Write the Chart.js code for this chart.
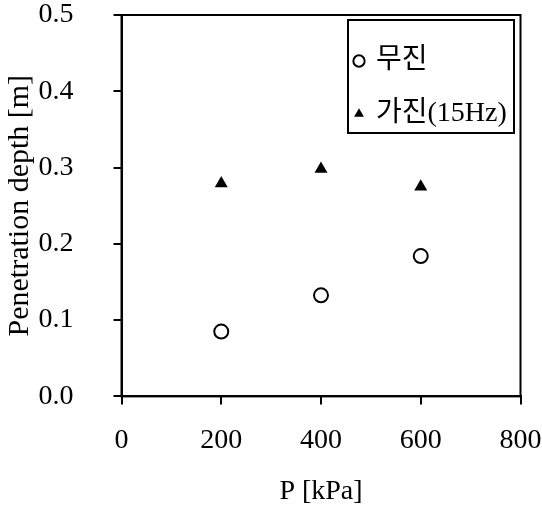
<!DOCTYPE html>
<html>
<head>
<meta charset="utf-8">
<script src="https://cdn.jsdelivr.net/npm/chart.js@4.4.0/dist/chart.umd.min.js"></script>
<style>
  html, body { margin: 0; padding: 0; background: #fff; }
  #wrap { width: 542px; height: 506px; }
</style>
</head>
<body>
<div id="wrap"><canvas id="grafica"></canvas></div>
<script>
// Datos
const presiones = [200, 400, 600];
const profMujin = [0.085, 0.1325, 0.184];
const profGajin = [0.279, 0.298, 0.275];
const etiquetas = ["무진", "가진(15Hz)"];
const ticksY = [0.0, 0.1, 0.2, 0.3, 0.4, 0.5];
const ticksX = [0, 200, 400, 600, 800];

const serif = "'Liberation Serif', 'Times New Roman', serif";
const padX = 19;
const padY = 40;

// Mover la leyenda dentro del area del grafico y dibujar su recuadro
const leyendaCaja = {
    id: "leyendaCaja",
    afterLayout(chart) {
        const area = chart.chartArea;
        const lg = chart.legend;
        const boxL = area.right - 172.5;
        const boxT = area.top + 5;
        lg.left = boxL - 17;
        lg.top = boxT + 2;
        lg.width = 200;
        lg.right = lg.left + lg.width;
        lg.height = area.bottom - lg.top;
        lg.bottom = area.bottom;
        lg.adjustHitBoxes();
    },
    afterDraw(chart) {
        const area = chart.chartArea;
        const ctx = chart.ctx;
        ctx.save();
        ctx.strokeStyle = "#000";
        ctx.lineWidth = 2;
        // marco del area
        ctx.strokeRect(area.left, area.top, area.right - area.left, area.bottom - area.top);
        // marco de la leyenda
        ctx.strokeRect(area.right - 172.5, area.top + 5, 166, 113);
        ctx.restore();
    }
};

const ctx = document.getElementById("grafica").getContext("2d");
new Chart(ctx, {
    type: "scatter",
    data: {
        datasets: [
            {
                label: etiquetas[0],
                data: presiones.map((p, i) => ({ x: p, y: profMujin[i] })),
                pointStyle: "circle",
                pointRadius: 7,
                pointBorderWidth: 2,
                borderColor: "#000",
                backgroundColor: "#fff",
                pointBackgroundColor: "#fff",
                pointBorderColor: "#000"
            },
            {
                label: etiquetas[1],
                data: presiones.map((p, i) => ({ x: p, y: profGajin[i] })),
                pointStyle: "triangle",
                pointRadius: 7.5,
                pointBorderWidth: 0,
                borderWidth: 0,
                borderColor: "#000",
                backgroundColor: "#000",
                pointBackgroundColor: "#000"
            }
        ]
    },
    options: {
        responsive: true,
        maintainAspectRatio: false,
        animation: false,
        layout: { padding: { top: 15, right: 21.5, left: 2.5, bottom: 0 } },
        plugins: {
            tooltip: { enabled: false },
            legend: {
                display: true,
                position: "chartArea",
                fullSize: false,
                align: "start",
                labels: {
                    usePointStyle: true,
                    boxWidth: 6,
                    boxHeight: 8,
                    padding: 25,
                    color: "#000",
                    font: { family: serif + ", 'Noto Sans CJK KR'", size: 28 }
                }
            }
        },
        scales: {
            x: {
                type: "linear",
                min: 0,
                max: 800,
                afterBuildTicks: axis => { axis.ticks = ticksX.map(v => ({ value: v })); },
                // Chart.js reserva el padding dos veces; se quita el sobrante
                afterFit: axis => { axis.paddingLeft = 0; axis.paddingRight = 0; axis.height -= padX; },
                grid: { drawOnChartArea: false, drawTicks: true, tickLength: 8, color: "#000", lineWidth: 2 },
                border: { display: true, color: "#000", width: 2 },
                ticks: { color: "#000", padding: padX, maxRotation: 0, font: { family: serif, size: 28 } },
                title: { display: true, text: "P [kPa]", color: "#000", padding: { top: 21, bottom: 0 }, font: { family: serif, size: 28, lineHeight: 1 } }
            },
            y: {
                type: "linear",
                min: 0,
                max: 0.5,
                afterBuildTicks: axis => { axis.ticks = ticksY.map(v => ({ value: v })); },
                afterFit: axis => { axis.paddingTop = 0; axis.paddingBottom = 0; axis.width -= padY; },
                grid: { drawOnChartArea: false, drawTicks: true, tickLength: 8, color: "#000", lineWidth: 2 },
                border: { display: true, color: "#000", width: 2 },
                ticks: {
                    color: "#000",
                    padding: padY,
                    font: { family: serif, size: 28 },
                    callback: v => v.toFixed(1)
                },
                title: { display: true, text: "Penetration depth [m]", color: "#000", padding: { top: 0, bottom: 0 }, font: { family: serif, size: 30 } }
            }
        }
    },
    plugins: [leyendaCaja]
});
</script>
</body>
</html>
